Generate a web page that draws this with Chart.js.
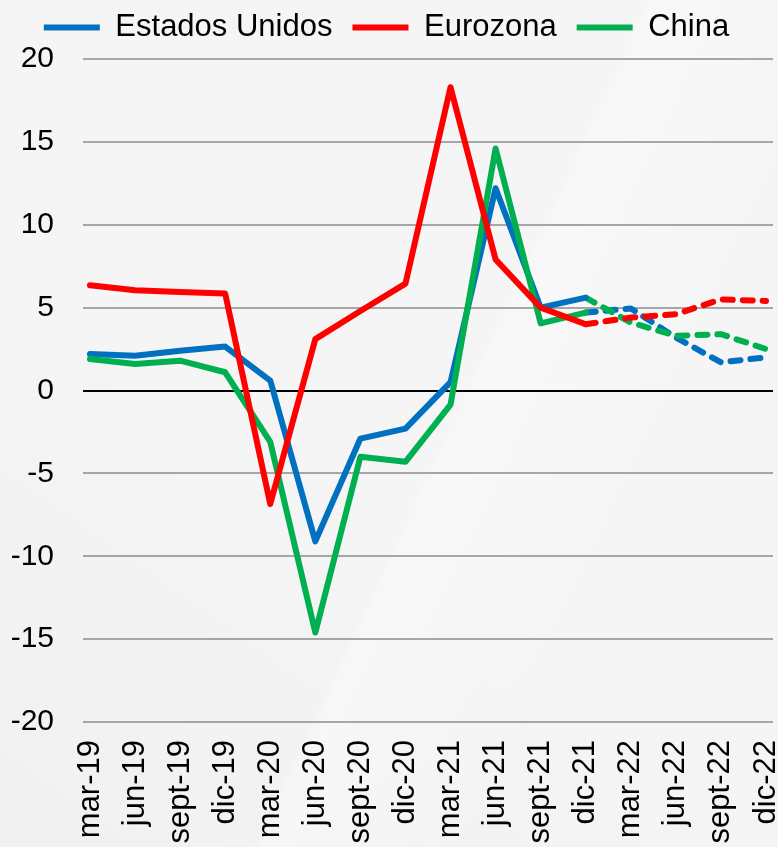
<!DOCTYPE html>
<html lang="es">
<head>
<meta charset="utf-8">
<title>Crecimiento del PIB</title>
<script src="https://cdn.jsdelivr.net/npm/chart.js@4.4.1/dist/chart.umd.min.js"></script>
<style>
  html, body {
    margin: 0;
    padding: 0;
    overflow: hidden;
  }
  body {
    width: 778px;
    height: 847px;
    background:
      linear-gradient(115deg, rgba(255,255,255,0) 55%, rgba(255,255,255,0.35) 56%, rgba(255,255,255,0) 75%),
      linear-gradient(35deg, rgba(238,238,238,0.6) 0%, rgba(255,255,255,0) 45%),
      #f5f5f5;
  }
  #contenedor {
    position: relative;
    width: 778px;
    height: 847px;
  }
</style>
</head>
<body>
<div id="contenedor">
  <canvas id="grafico"></canvas>
</div>
<script>
// trimestres del eje x
const trimestres = ['mar-19', 'jun-19', 'sept-19', 'dic-19', 'mar-20', 'jun-20', 'sept-20', 'dic-20',
                    'mar-21', 'jun-21', 'sept-21', 'dic-21', 'mar-22', 'jun-22', 'sept-22', 'dic-22'];

// datos observados (mar-19 a dic-21)
const estadosUnidos = [2.2, 2.1, 2.4, 2.65, 0.6, -9.1, -2.9, -2.3, 0.5, 12.2, 5.0, 5.6];
const eurozona      = [6.35, 6.05, 5.95, 5.85, -6.85, 3.1, 4.8, 6.45, 18.3, 7.9, 5.0, 4.0];
const china         = [1.9, 1.6, 1.8, 1.1, -3.1, -14.6, -4.0, -4.3, -0.85, 14.6, 4.05, 4.7];

// proyecciones (dic-21 a dic-22), en linea discontinua
const estadosUnidosProy = [4.7, 4.95, 3.2, 1.7, 2.0];
const eurozonaProy      = [4.0, 4.4, 4.6, 5.5, 5.4];
const chinaProy         = [5.6, 4.1, 3.3, 3.4, 2.5];
const inicioProy = 11;

// eje y
const yMin = -20, yMax = 20, yPaso = 5;

const azul = '#0070C0', rojo = '#FF0000', verde = '#00B050';
const fuente = 'Arial, "Liberation Sans", sans-serif';

const puntos = (valores, inicio) => valores.map((v, i) => ({ x: inicio + i, y: v }));

const serie = (nombre, valores, color, orden) => ({
  label: nombre,
  data: puntos(valores, 0),
  borderColor: color,
  backgroundColor: color,
  borderWidth: 6,
  borderCapStyle: 'round',
  borderJoinStyle: 'round',
  pointRadius: 0,
  tension: 0,
  order: orden
});

const proyeccion = (valores, color, orden) => ({
  label: '',
  data: puntos(valores, inicioProy),
  borderColor: color,
  borderWidth: 6,
  borderDash: [10, 10],
  borderCapStyle: 'round',
  borderJoinStyle: 'round',
  pointRadius: 0,
  tension: 0,
  order: orden
});

// deja la leyenda algo mas alta para que el area de trazado empiece en el 20
const ajusteLeyenda = {
  id: 'ajusteLeyenda',
  afterInit(chart) {
    const fitOriginal = chart.legend.fit;
    chart.legend.fit = function () {
      fitOriginal.call(this);
      this.height = 67;
    };
  }
};

new Chart(document.getElementById('grafico'), {
  type: 'line',
  data: {
    datasets: [
      serie('Estados Unidos', estadosUnidos, azul, 2),
      serie('Eurozona', eurozona, rojo, 0),
      serie('China', china, verde, 1),
      proyeccion(estadosUnidosProy, azul, 5),
      proyeccion(eurozonaProy, rojo, 3),
      proyeccion(chinaProy, verde, 4)
    ]
  },
  options: {
    responsive: true,
    maintainAspectRatio: false,
    animation: false,
    layout: { padding: { top: -8, right: 5, left: 0, bottom: 0 } },
    plugins: {
      tooltip: { enabled: false },
      legend: {
        position: 'top',
        labels: {
          filter: item => item.text !== '',
          sort: (a, b) => a.datasetIndex - b.datasetIndex,
          usePointStyle: true,
          pointStyle: 'line',
          pointStyleWidth: 56,
          boxHeight: 6,
          padding: 20,
          color: '#000',
          font: { family: fuente, size: 31 }
        }
      }
    },
    scales: {
      x: {
        type: 'linear',
        min: -0.155,
        max: trimestres.length - 1 + 0.155,
        afterBuildTicks: escala => {
          escala.ticks = trimestres.map((_, i) => ({ value: i }));
        },
        afterFit: escala => {
          escala.height = 125;
          escala.paddingLeft = 0;
          escala.paddingRight = 0;
        },
        grid: { display: false },
        border: { display: false },
        ticks: {
          autoSkip: false,
          minRotation: 90,
          maxRotation: 90,
          padding: 10,
          color: '#000',
          font: { family: fuente, size: 31 },
          callback: v => trimestres[v]
        }
      },
      y: {
        min: yMin,
        max: yMax,
        afterFit: escala => { escala.width = 83; },
        border: { display: false },
        grid: {
          drawTicks: false,
          color: ctx => ctx.tick && ctx.tick.value === 0 ? '#000000' : '#a6a6a6',
          lineWidth: 2
        },
        ticks: {
          stepSize: yPaso,
          padding: 29,
          color: '#000',
          font: { family: fuente, size: 30 }
        }
      }
    }
  },
  plugins: [ajusteLeyenda]
});
</script>
</body>
</html>
